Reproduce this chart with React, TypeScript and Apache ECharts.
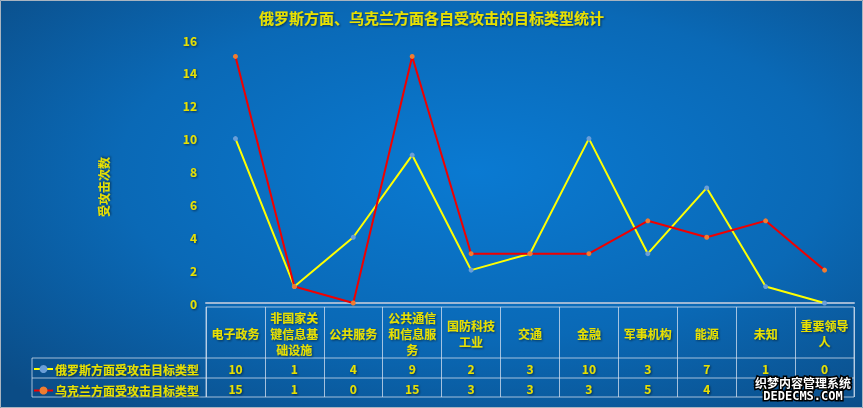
import React, { useEffect, useRef } from "react";
import * as echarts from "echarts";

const title = "俄罗斯方面、乌克兰方面各自受攻击的目标类型统计";
const yAxisName = "受攻击次数";
const categories = ["电子政务", "非国家关键信息基础设施", "公共服务", "公共通信和信息服务", "国防科技工业", "交通", "金融", "军事机构", "能源", "未知", "重要领导人"];
const russiaName = "俄罗斯方面受攻击目标类型";
const ukraineName = "乌克兰方面受攻击目标类型";
const russia = [10, 1, 4, 9, 2, 3, 10, 3, 7, 1, 0];
const ukraine = [15, 1, 0, 15, 3, 3, 3, 5, 4, 5, 2];
const yTicks = { min: 0, max: 16, interval: 2 };

const YELLOW = "#e8e000";
const LINE = "rgba(215,225,240,0.75)";
const FONT = "'Noto Sans CJK SC', 'Noto Sans', sans-serif";
const shadow = { textShadowColor: "rgba(0,0,0,0.55)", textShadowBlur: 2, textShadowOffsetX: 1, textShadowOffsetY: 1 };

export default function App() {
  const ref = useRef<HTMLDivElement>(null);
  useEffect(() => {
    const chart = echarts.init(ref.current!, null, { renderer: "svg" });
    const txt = { color: YELLOW, fontWeight: "bold" as const, fontSize: 12, fontFamily: FONT, ...shadow };
    const hidden = { axisLine: { show: false }, axisTick: { show: false } };
    chart.setOption({
      animation: false,
      backgroundColor: {
        type: "radial", x: 0.55, y: 0.42, r: 0.75,
        colorStops: [
          { offset: 0, color: "#0a7ad2" },
          { offset: 0.55, color: "#0a69b6" },
          { offset: 1, color: "#0b4c86" },
        ],
      },
      title: {
        text: title, left: "center", top: 5,
        textStyle: { ...txt, fontSize: 15 },
      },
      legend: {
        orient: "vertical", left: 33, top: 363, itemGap: 9.5, itemWidth: 19, itemHeight: 10, padding: 0,
        data: [russiaName, ukraineName],
        textStyle: { ...txt, fontSize: 12, padding: [0, 0, 0, -3] },
      },
      grid: [
        { left: 206, right: 9, top: 40, bottom: 105 },
        { left: 206, right: 9, top: 307, bottom: 11, show: true, borderColor: LINE, borderWidth: 1 },
      ],
      xAxis: [
        {
          type: "category", data: categories, gridIndex: 0, position: "bottom", boundaryGap: true,
          axisLine: { lineStyle: { color: "#9fb8d4", width: 2 } }, axisTick: { show: false },
          axisLabel: { ...txt, interval: 0, width: 52, overflow: "break", lineHeight: 16, verticalAlign: "middle", margin: 30 },
        },
        {
          type: "category", data: categories, gridIndex: 0, position: "bottom", offset: 0, ...hidden,
          axisLabel: { ...txt, interval: 0, verticalAlign: "middle", margin: 65, formatter: (_v: string, i: number) => String(russia[i]) },
        },
        {
          type: "category", data: categories, gridIndex: 0, position: "bottom", offset: 0, ...hidden,
          axisLabel: { ...txt, interval: 0, verticalAlign: "middle", margin: 85, formatter: (_v: string, i: number) => String(ukraine[i]) },
        },
        {
          type: "category", data: categories, gridIndex: 1, boundaryGap: true, ...hidden,
          axisLabel: { show: false },
          splitLine: { show: true, interval: 0, lineStyle: { color: LINE, width: 1 } },
        },
      ],
      yAxis: [
        {
          type: "value", gridIndex: 0, ...yTicks,
          axisLine: { show: false }, axisTick: { show: false }, splitLine: { show: false },
          axisLabel: { ...txt, margin: 9 },
        },
        { type: "value", gridIndex: 1, show: false },
      ],
      series: [
        {
          name: russiaName, type: "line", data: russia, xAxisIndex: 0, yAxisIndex: 0,
          symbol: "circle", symbolSize: 5,
          lineStyle: { color: "#ffff00", width: 2 },
          itemStyle: { color: "#6a9ed8" },
        },
        {
          name: ukraineName, type: "line", data: ukraine, xAxisIndex: 0, yAxisIndex: 0,
          symbol: "circle", symbolSize: 5,
          lineStyle: { color: "#f00000", width: 2 },
          itemStyle: { color: "#f07c30" },
        },
      ],
      graphic: [
        { type: "rect", shape: { x: 0.5, y: 0.5, width: 862, height: 407 }, style: { fill: "none", stroke: "#a9b4c0", lineWidth: 1 }, silent: true },
        { type: "line", shape: { x1: 32, y1: 358, x2: 854, y2: 358 }, style: { stroke: LINE, lineWidth: 1 } },
        { type: "line", shape: { x1: 32, y1: 378, x2: 854, y2: 378 }, style: { stroke: LINE, lineWidth: 1 } },
        { type: "line", shape: { x1: 32, y1: 397, x2: 206, y2: 397 }, style: { stroke: LINE, lineWidth: 1 } },
        { type: "line", shape: { x1: 32, y1: 358, x2: 32, y2: 397 }, style: { stroke: LINE, lineWidth: 1 } },
        {
          type: "text", x: 103, y: 187, rotation: Math.PI / 2,
          style: { text: yAxisName, align: "center", verticalAlign: "middle", fill: YELLOW, font: `bold 12px ${FONT}`, textShadowColor: "rgba(0,0,0,0.55)", textShadowBlur: 2, textShadowOffsetX: 1, textShadowOffsetY: 1 },
        },
        {
          type: "text", x: 803, y: 382,
          style: { text: "织梦内容管理系统", align: "center", verticalAlign: "middle", fill: "#ffffff", stroke: "#000000", lineWidth: 3, font: `bold 12px ${FONT}` },
          z: 100,
        },
        {
          type: "text", x: 803, y: 396,
          style: { text: "DEDECMS.COM", align: "center", verticalAlign: "middle", fill: "#ffffff", stroke: "#000000", lineWidth: 3, font: "bold 12px 'DejaVu Sans Mono', monospace" },
          z: 100,
        },
      ],
    });
    return () => chart.dispose();
  }, []);
  return <div ref={ref} style={{ position: "fixed", left: 0, top: 0, width: 863, height: 408 }} />;
}
